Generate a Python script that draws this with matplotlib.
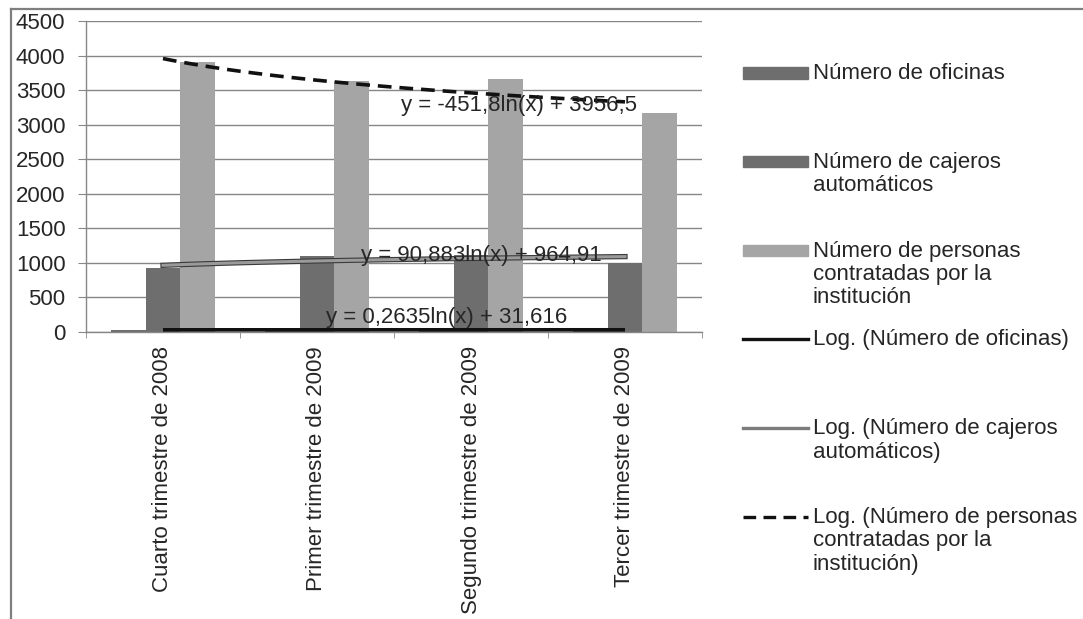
import matplotlib.pyplot as plt
import matplotlib.patheffects as pe
from matplotlib.patches import Rectangle
from matplotlib.lines import Line2D
import numpy as np

plt.rcParams['font.family'] = ['Liberation Sans', 'DejaVu Sans']

categorias = ['Cuarto trimestre de 2008', 'Primer trimestre de 2009',
              'Segundo trimestre de 2009', 'Tercer trimestre de 2009']
oficinas = [31, 32, 32, 32]
cajeros = [925, 1095, 1110, 1005]
personas = [3910, 3630, 3660, 3170]

# coeficientes de las tendencias logaritmicas (y = a ln(x) + b)
tend_oficinas = (0.2635, 31.616)
tend_cajeros = (90.883, 964.91)
tend_personas = (-451.8, 3956.5)

W, H = 1083, 619
fig = plt.figure(figsize=(W / 100, H / 100), dpi=100)
ax = fig.add_axes([86 / W, 1 - 332 / H, 616 / W, 311 / H])

txt = '#262626'
grid = '#878787'
c_dark = '#6e6e6e'
c_light = '#a5a5a5'

x = np.arange(len(categorias))
bw = 0.223
ax.bar(x - bw, oficinas, bw, color=c_dark, zorder=2)
ax.bar(x, cajeros, bw, color=c_dark, zorder=2)
ax.bar(x + bw, personas, bw, color=c_light, zorder=2)

# curvas de tendencia
xs = np.linspace(1, 4, 100)
xp = xs - 1
a, b = tend_oficinas
ax.plot(xp, a * np.log(xs) + b, color='#111111', lw=2.6, zorder=3,
        solid_capstyle='butt')
a, b = tend_cajeros
ax.plot(xp, a * np.log(xs) + b, color='#9a9a9a', lw=2.2, zorder=3,
        path_effects=[pe.Stroke(linewidth=3.8, foreground='#3a3a3a'), pe.Normal()])
a, b = tend_personas
ax.plot(xp, a * np.log(xs) + b, color='#111111', lw=2.6, zorder=3,
        dashes=(3.8, 2.2))

ax.set_xlim(-0.5, 3.5)
ax.set_ylim(0, 4500)
ax.set_yticks(np.arange(0, 4501, 500))
ax.yaxis.grid(True, color=grid, lw=1)
ax.set_axisbelow(True)
for s in ['top', 'right']:
    ax.spines[s].set_visible(False)
for s in ['left', 'bottom']:
    ax.spines[s].set_color(grid)
    ax.spines[s].set_linewidth(1)

ax.set_xticks(x)
ax.set_xticklabels(categorias, rotation=90, ha='center', va='top',
                   fontsize=16, color=txt)
ax.set_xticks(np.arange(-0.5, 4, 1), minor=True)
ax.tick_params(axis='x', which='major', length=0, pad=10)
ax.tick_params(axis='x', which='minor', length=4.5, color=grid)
ax.tick_params(axis='y', length=5.8, color=grid, pad=9, labelsize=16,
               labelcolor=txt)

# ecuaciones de las tendencias
def px(xp_, yp_):
    return xp_ / W, 1 - yp_ / H

fig.text(*px(519, 105), 'y = -451,8ln(x) + 3956,5', ha='center', va='center',
         fontsize=16, color=txt, zorder=5)
fig.text(*px(481, 256), 'y = 90,883ln(x) + 964,91', ha='center', va='center',
         fontsize=16, color=txt, zorder=5)
fig.text(*px(447, 317), 'y = 0,2635ln(x) + 31,616', ha='center', va='center',
         fontsize=16, color=txt, zorder=5)

# leyenda
entradas = [
    ('bar', c_dark, 'Número de oficinas'),
    ('bar', c_dark, 'Número de cajeros\nautomáticos'),
    ('bar', c_light, 'Número de personas\ncontratadas por la\ninstitución'),
    ('line', '#111111', 'Log. (Número de oficinas)'),
    ('line', '#7c7c7c', 'Log. (Número de cajeros\nautomáticos)'),
    ('dash', '#111111', 'Log. (Número de personas\ncontratadas por la\ninstitución)'),
]
for i, (tipo, col, lab) in enumerate(entradas):
    y0 = 73 + 88.8 * i
    if tipo == 'bar':
        fig.patches.append(Rectangle((743 / W, 1 - (y0 + 5.5) / H), 65 / W, 11 / H,
                                     color=col, transform=fig.transFigure))
    else:
        kw = dict(color=col, lw=2.4, transform=fig.transFigure)
        if tipo == 'dash':
            kw['dashes'] = (3.8, 2.2)
        fig.lines.append(Line2D([743 / W, 808 / W], [1 - y0 / H] * 2, **kw))
    fig.text(813 / W, 1 - (y0 - 10) / H, lab, ha='left', va='top',
             fontsize=16, color=txt, linespacing=1.15)

# marco del grafico
fig.lines.append(Line2D([11 / W, 1], [1 - 9 / H] * 2, color='#7f7f7f', lw=1.6,
                        transform=fig.transFigure))
fig.lines.append(Line2D([11 / W] * 2, [0, 1 - 9 / H], color='#7f7f7f', lw=1.6,
                        transform=fig.transFigure))

fig.savefig('out.png', dpi=100)
